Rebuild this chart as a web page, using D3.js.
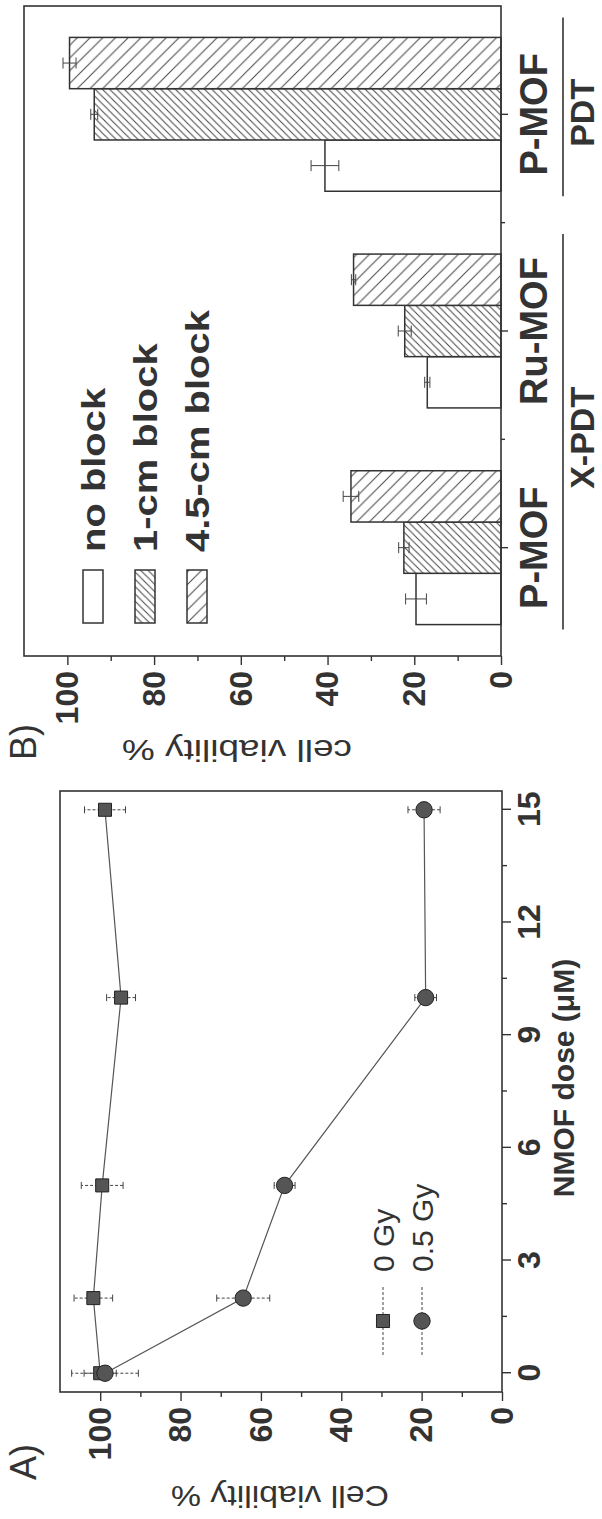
<!DOCTYPE html>
<html>
<head>
<meta charset="utf-8">
<script src="https://cdn.jsdelivr.net/npm/d3@7"></script>
<style>
  body { margin: 0; background: #fff; }
  svg text { font-family: "Liberation Sans", Arial, sans-serif; fill: #333; }
</style>
</head>
<body>
<div id="figure"></div>
<script>
// ---- panel A data: cell viability vs NMOF dose ----
const doses = [0, 2, 5, 10, 15];
const viability0Gy = [100, 101.7, 99.5, 94.8, 98.8];
const error0Gy = [4, 4.8, 5.2, 3.6, 5.1];
const viability05Gy = [98.8, 64.4, 54.1, 19, 19.4];
const error05Gy = [8.3, 6.6, 2.6, 2.7, 4];
const doseTicks = [0, 3, 6, 9, 12, 15];
const viabilityTicks = [0, 20, 40, 60, 80, 100];

// ---- panel B data: block experiment ----
const agents = ["P-MOF", "Ru-MOF", "P-MOF"];
const treatmentOf = ["X-PDT", "X-PDT", "PDT"];
const blockKeys = ["no block", "1-cm block", "4.5-cm block"];
const noBlock = [19.6, 17, 40.6];
const noBlockErr = [2.4, 0.6, 3.2];
const oneCmBlock = [22.4, 22.2, 93.8];
const oneCmBlockErr = [1.2, 1.5, 0.8];
const fourCmBlock = [34.6, 34, 99.5];
const fourCmBlockErr = [1.8, 0.5, 1.5];

const W = 1519; // figure is drawn landscape, then turned a quarter left

const svg = d3.select("#figure").append("svg")
    .attr("width", 602)
    .attr("height", 1519);

const defs = svg.append("defs");
makeHatch(defs, "hatch-1cm", 7.3, "up");
makeHatch(defs, "hatch-45cm", 12.7, "down");

const fig = svg.append("g")
    .attr("transform", `translate(0,${W}) rotate(-90)`);

drawPanelA(fig);
drawPanelB(fig);

function makeHatch(defs, id, s, dir) {
    const p = defs.append("pattern")
        .attr("id", id)
        .attr("patternUnits", "userSpaceOnUse")
        .attr("width", s)
        .attr("height", s);
    const d = dir === "up"
        ? `M0,${s} L${s},0 M${-s / 2},${s / 2} L${s / 2},${-s / 2} M${s / 2},${s * 1.5} L${s * 1.5},${s / 2}`
        : `M0,0 L${s},${s} M${-s / 2},${s / 2} L${s / 2},${s * 1.5} M${s / 2},${-s / 2} L${s * 1.5},${s / 2}`;
    p.append("rect").attr("width", s).attr("height", s).attr("fill", "#fff");
    p.append("path")
        .attr("d", d)
        .attr("stroke", "#444")
        .attr("stroke-width", 1);
}

function styleAxis(sel, fontSize) {
    sel.attr("font-family", null).attr("font-size", null);
    sel.select(".domain").remove();
    sel.selectAll(".tick line").attr("stroke", "#333").attr("stroke-width", 1.4);
    sel.selectAll(".tick text")
        .attr("font-size", fontSize)
        .attr("font-weight", "bold")
        .attr("fill", "#333");
}

function midpoints(ticks) {
    return d3.pairs(ticks).map(([a, b]) => (a + b) / 2);
}

function drawPanelA(fig) {
    const plot = { left: 127, right: 728, top: 60, bottom: 502 };
    const g = fig.append("g").attr("class", "panel-a");

    const x = d3.scaleLinear().domain([-0.5, 15.5]).range([plot.left, plot.right]);
    const y = d3.scaleLinear().domain([0, 110]).range([plot.bottom, plot.top]);

    // minor ticks
    g.append("g")
        .attr("transform", `translate(0,${plot.bottom})`)
        .call(d3.axisBottom(x).tickValues(midpoints(doseTicks)).tickSize(5).tickFormat(""))
        .call(styleAxis, 32);
    g.append("g")
        .attr("transform", `translate(${plot.left},0)`)
        .call(d3.axisLeft(y).tickValues(midpoints(viabilityTicks)).tickSize(5).tickFormat(""))
        .call(styleAxis, 32);

    // major ticks
    g.append("g")
        .attr("transform", `translate(0,${plot.bottom})`)
        .call(d3.axisBottom(x).tickValues(doseTicks).tickSize(9).tickPadding(6))
        .call(styleAxis, 32);
    g.append("g")
        .attr("transform", `translate(${plot.left},0)`)
        .call(d3.axisLeft(y).tickValues(viabilityTicks).tickSize(9).tickPadding(6))
        .call(styleAxis, 32);

    // frame
    g.append("rect")
        .attr("x", plot.left)
        .attr("y", plot.top)
        .attr("width", plot.right - plot.left)
        .attr("height", plot.bottom - plot.top)
        .attr("fill", "none")
        .attr("stroke", "#333")
        .attr("stroke-width", 1.6);

    const series = [
        { name: "0 Gy", values: viability0Gy, errors: error0Gy, symbol: d3.symbolSquare, size: 170 },
        { name: "0.5 Gy", values: viability05Gy, errors: error05Gy, symbol: d3.symbolCircle, size: 210 }
    ];

    const line = d3.line()
        .x(d => x(d.dose))
        .y(d => y(d.value));

    series.forEach(s => {
        const pts = doses.map((dose, i) => ({ dose: dose, value: s.values[i], error: s.errors[i] }));
        const sg = g.append("g").attr("class", "series");

        sg.append("path")
            .datum(pts)
            .attr("d", line)
            .attr("fill", "none")
            .attr("stroke", "#555")
            .attr("stroke-width", 1.2);

        // error bars
        const eb = sg.selectAll(".err")
            .data(pts)
            .enter().append("g")
            .attr("class", "err");
        eb.append("line")
            .attr("x1", d => x(d.dose)).attr("x2", d => x(d.dose))
            .attr("y1", d => y(d.value - d.error)).attr("y2", d => y(d.value + d.error))
            .attr("stroke", "#444").attr("stroke-width", 1).attr("stroke-dasharray", "3,2");
        [-1, 1].forEach(sign => {
            eb.append("line")
                .attr("x1", d => x(d.dose) - 3.5).attr("x2", d => x(d.dose) + 3.5)
                .attr("y1", d => y(d.value + sign * d.error)).attr("y2", d => y(d.value + sign * d.error))
                .attr("stroke", "#444").attr("stroke-width", 1);
        });

        sg.selectAll(".marker")
            .data(pts)
            .enter().append("path")
            .attr("class", "marker")
            .attr("transform", d => `translate(${x(d.dose)},${y(d.value)})`)
            .attr("d", d3.symbol().type(s.symbol).size(s.size))
            .attr("fill", "#555")
            .attr("stroke", "#222")
            .attr("stroke-width", 1);
    });

    // legend
    const legend = g.append("g").attr("class", "legend")
        .attr("transform", "translate(164,383)");
    series.forEach((s, i) => {
        const row = legend.append("g").attr("transform", `translate(0,${i * 39})`);
        row.append("line")
            .attr("x1", 0).attr("x2", 68)
            .attr("stroke", "#444").attr("stroke-width", 1).attr("stroke-dasharray", "3,2");
        row.append("path")
            .attr("transform", "translate(34,0)")
            .attr("d", d3.symbol().type(s.symbol).size(s.size))
            .attr("fill", "#555").attr("stroke", "#222");
        row.append("text")
            .attr("x", 83)
            .attr("dy", "0.36em")
            .attr("font-size", 30)
            .text(s.name);
    });

    // titles
    g.append("text")
        .attr("x", 441)
        .attr("y", 574)
        .attr("text-anchor", "middle")
        .attr("font-size", 30)
        .attr("font-weight", "bold")
        .text("NMOF dose (\u03bcM)");

    g.append("text")
        .attr("transform", "translate(33,280) rotate(-90)")
        .attr("text-anchor", "middle")
        .attr("font-size", 30)
        .attr("textLength", 218)
        .attr("lengthAdjust", "spacingAndGlyphs")
        .text("Cell viability %");

    g.append("text")
        .attr("x", 39)
        .attr("y", 36)
        .attr("font-size", 36)
        .text("A)");
}

function drawPanelB(fig) {
    const plot = { left: 863, right: 1513, top: 24, bottom: 501 };
    const g = fig.append("g").attr("class", "panel-b");

    const x0 = d3.scaleBand()
        .domain(d3.range(agents.length))
        .range([plot.left, plot.right])
        .paddingInner(0.29)
        .paddingOuter(0.145);
    const x1 = d3.scaleBand()
        .domain(blockKeys)
        .range([0, x0.bandwidth()]);
    const y = d3.scaleLinear().domain([0, 110]).range([plot.bottom, plot.top]);

    const blockValues = [noBlock, oneCmBlock, fourCmBlock];
    const blockErrors = [noBlockErr, oneCmBlockErr, fourCmBlockErr];
    const fills = {
        "no block": "#fff",
        "1-cm block": "url(#hatch-1cm)",
        "4.5-cm block": "url(#hatch-45cm)"
    };

    // y axis
    g.append("g")
        .attr("transform", `translate(${plot.left},0)`)
        .call(d3.axisLeft(y).tickValues(midpoints(viabilityTicks)).tickSize(5).tickFormat(""))
        .call(styleAxis, 32);
    g.append("g")
        .attr("transform", `translate(${plot.left},0)`)
        .call(d3.axisLeft(y).tickValues(viabilityTicks).tickSize(9).tickPadding(6))
        .call(styleAxis, 32);

    // x ticks at group centres, minor ticks between groups
    g.append("g")
        .attr("transform", `translate(0,${plot.bottom})`)
        .call(d3.axisBottom(x0).tickSize(7).tickFormat(""))
        .call(styleAxis, 32);
    g.selectAll(".minor-x")
        .data(d3.pairs(x0.domain()))
        .enter().append("line")
        .attr("class", "minor-x")
        .attr("x1", d => (x0(d[0]) + x0(d[1])) / 2 + x0.bandwidth() / 2)
        .attr("x2", d => (x0(d[0]) + x0(d[1])) / 2 + x0.bandwidth() / 2)
        .attr("y1", plot.bottom).attr("y2", plot.bottom + 4)
        .attr("stroke", "#333").attr("stroke-width", 1.4);

    // bars
    const rows = agents.map((a, i) => blockKeys.map((k, j) => ({
        agent: i, key: k, value: blockValues[j][i], error: blockErrors[j][i]
    })));

    const groups = g.selectAll(".group")
        .data(rows)
        .enter().append("g")
        .attr("class", "group")
        .attr("transform", (d, i) => `translate(${x0(i)},0)`);

    groups.selectAll("rect")
        .data(d => d)
        .enter().append("rect")
        .attr("x", d => x1(d.key))
        .attr("y", d => y(d.value))
        .attr("width", x1.bandwidth())
        .attr("height", d => y(0) - y(d.value))
        .attr("fill", d => fills[d.key])
        .attr("stroke", "#333")
        .attr("stroke-width", 1.5);

    const eb = groups.selectAll(".err")
        .data(d => d)
        .enter().append("g")
        .attr("class", "err")
        .attr("transform", d => `translate(${x1(d.key) + x1.bandwidth() / 2},0)`);
    eb.append("line")
        .attr("y1", d => y(d.value - d.error)).attr("y2", d => y(d.value + d.error))
        .attr("stroke", "#444").attr("stroke-width", 1);
    [-1, 1].forEach(sign => {
        eb.append("line")
            .attr("x1", -5.5).attr("x2", 5.5)
            .attr("y1", d => y(d.value + sign * d.error)).attr("y2", d => y(d.value + sign * d.error))
            .attr("stroke", "#444").attr("stroke-width", 1);
    });

    // frame
    g.append("rect")
        .attr("x", plot.left)
        .attr("y", plot.top)
        .attr("width", plot.right - plot.left)
        .attr("height", plot.bottom - plot.top)
        .attr("fill", "none")
        .attr("stroke", "#333")
        .attr("stroke-width", 1.6);

    // category labels
    g.selectAll(".agent")
        .data(agents)
        .enter().append("text")
        .attr("class", "agent")
        .attr("x", (d, i) => x0(i) + x0.bandwidth() / 2)
        .attr("y", 547)
        .attr("text-anchor", "middle")
        .attr("font-size", 38)
        .attr("font-weight", "bold")
        .text(d => d);

    // treatment groups with a rule above
    const treatments = d3.groups(d3.range(agents.length), i => treatmentOf[i]);
    treatments.forEach(([name, idx]) => {
        const start = x0(idx[0]) - 5;
        const end = x0(idx[idx.length - 1]) + x0.bandwidth() + 20;
        g.append("line")
            .attr("x1", start).attr("x2", end)
            .attr("y1", 563).attr("y2", 563)
            .attr("stroke", "#333").attr("stroke-width", 1.6);
        g.append("text")
            .attr("x", (start + end) / 2 - 6)
            .attr("y", 594)
            .attr("text-anchor", "middle")
            .attr("font-size", 34)
            .attr("font-weight", "bold")
            .text(name);
    });

    // legend
    const legend = g.append("g").attr("class", "legend")
        .attr("transform", "translate(896,83)");
    blockKeys.forEach((k, i) => {
        const row = legend.append("g").attr("transform", `translate(0,${i * 52})`);
        row.append("rect")
            .attr("width", 53)
            .attr("height", 20)
            .attr("fill", fills[k])
            .attr("stroke", "#333")
            .attr("stroke-width", 1.5);
        row.append("text")
            .attr("x", 71)
            .attr("y", 10)
            .attr("dy", "0.36em")
            .attr("font-size", 33)
            .attr("font-weight", "bold")
            .text(k)
            .each(function() {
                const len = this.getComputedTextLength();
                d3.select(this)
                    .attr("textLength", len * 1.21)
                    .attr("lengthAdjust", "spacingAndGlyphs");
            });
    });

    // titles
    g.append("text")
        .attr("transform", "translate(779,237) rotate(-90)")
        .attr("text-anchor", "middle")
        .attr("font-size", 30)
        .attr("textLength", 230)
        .attr("lengthAdjust", "spacingAndGlyphs")
        .text("cell viability %");

    g.append("text")
        .attr("x", 759)
        .attr("y", 36)
        .attr("font-size", 36)
        .text("B)");
}
</script>
</body>
</html>
